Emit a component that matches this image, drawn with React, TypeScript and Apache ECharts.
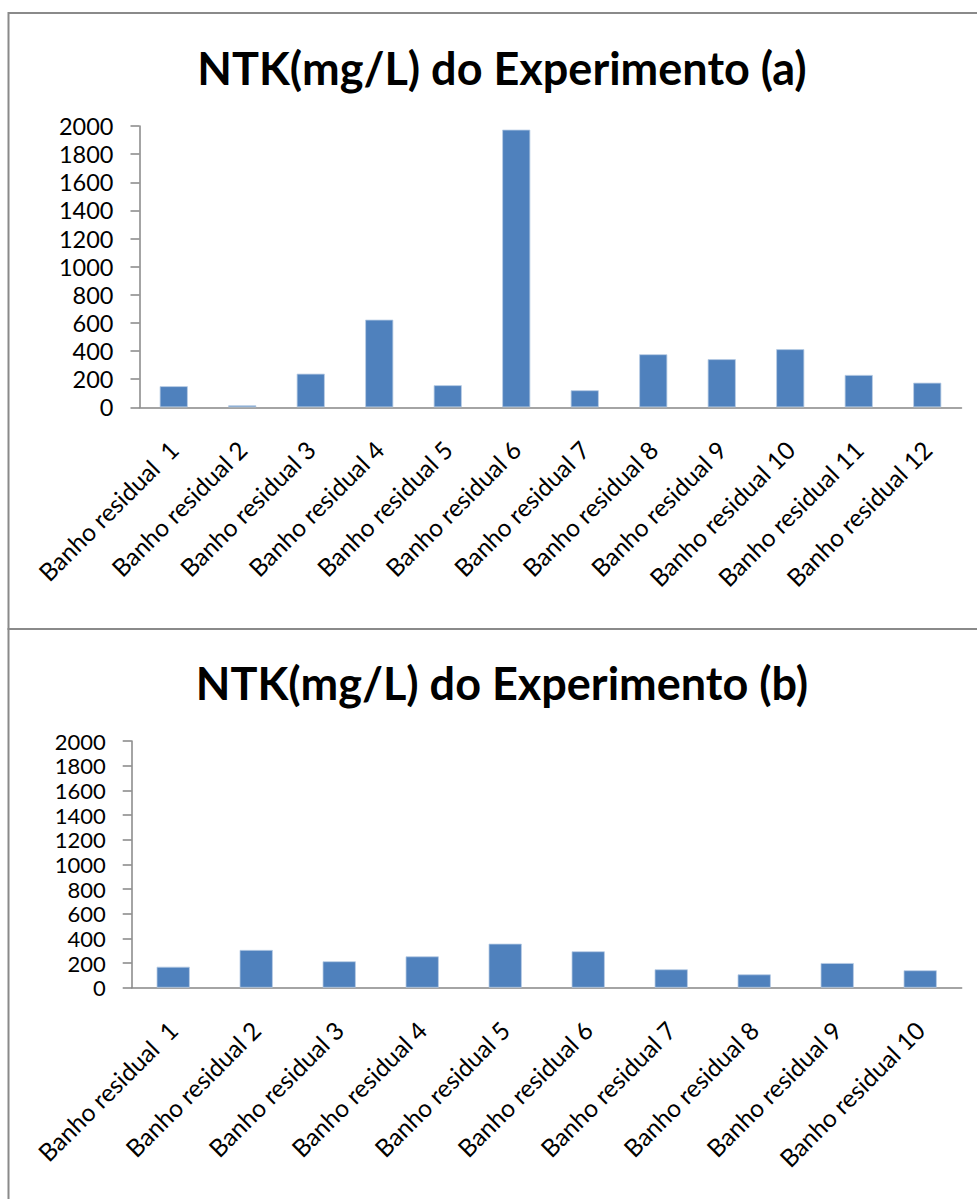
import React, { useEffect, useRef } from "react";
import * as echarts from "echarts";

const titleA = "NTK(mg/L) do Experimento (a)";
const titleB = "NTK(mg/L) do Experimento (b)";
const categoriesA = [
  "Banho residual  1", "Banho residual 2", "Banho residual 3", "Banho residual 4",
  "Banho residual 5", "Banho residual 6", "Banho residual 7", "Banho residual 8",
  "Banho residual 9", "Banho residual 10", "Banho residual 11", "Banho residual 12",
];
const valuesA = [150, 14, 239, 623, 157, 1974, 121, 377, 342, 413, 230, 175];
const categoriesB = [
  "Banho residual  1", "Banho residual 2", "Banho residual 3", "Banho residual 4",
  "Banho residual 5", "Banho residual 6", "Banho residual 7", "Banho residual 8",
  "Banho residual 9", "Banho residual 10",
];
const valuesB = [170, 306, 214, 254, 357, 295, 149, 108, 200, 141];
const yMin = 0;
const yMax = 2000;
const yStep = 200;

const FONT = "Lato";
const AXIS = "#868686";
const BAR = "#4F81BD";

export default function App() {
  const ref = useRef<HTMLDivElement>(null);
  useEffect(() => {
    if (!ref.current) return;
    const chart = echarts.init(ref.current, null, { renderer: "svg" });
    const xAxisCommon = (data: string[], gi: number) => ({
      type: "category",
      gridIndex: gi,
      data,
      axisLine: { lineStyle: { color: AXIS, width: 1.5 } },
      axisTick: { length: 9, lineStyle: { color: AXIS, width: 1.5 } },
      axisLabel: {
        rotate: 45,
        interval: 0,
        margin: 38,
        color: "#000",
        fontFamily: FONT,
        fontSize: 24.5,
      },
    });
    const yAxisCommon = (gi: number, size: number, lh: number) => ({
      type: "value",
      gridIndex: gi,
      min: yMin,
      max: yMax,
      interval: yStep,
      splitLine: { show: false },
      axisLine: { show: true, lineStyle: { color: AXIS, width: 1.5 } },
      axisTick: { show: true, length: 9, lineStyle: { color: AXIS, width: 1.5 } },
      axisLabel: {
        margin: 26,
        color: "#000",
        fontFamily: FONT,
        fontSize: size,
        lineHeight: lh,
        formatter: (v: number) => String(v),
      },
    });
    chart.setOption({
      animation: false,
      backgroundColor: "#fff",
      title: [
        {
          text: titleA,
          left: 497,
          top: 40,
          textAlign: "center",
          textStyle: { fontFamily: FONT, fontWeight: "bold", fontSize: 45, color: "#000" },
        },
        {
          text: titleB,
          left: 497,
          top: 655,
          textAlign: "center",
          textStyle: { fontFamily: FONT, fontWeight: "bold", fontSize: 45, color: "#000" },
        },
      ],
      grid: [
        { left: 139.5, width: 822, top: 126, height: 281.3 },
        { left: 131.7, width: 830, top: 741, height: 246.7 },
      ],
      xAxis: [xAxisCommon(categoriesA, 0), xAxisCommon(categoriesB, 1)],
      yAxis: [yAxisCommon(0, 23.5, 26), yAxisCommon(1, 22, 22)],
      series: [
        {
          type: "bar",
          xAxisIndex: 0,
          yAxisIndex: 0,
          data: valuesA,
          barCategoryGap: "59%",
          itemStyle: { color: BAR, borderColor: "#B9CDE5", borderWidth: 0.8 },
        },
        {
          type: "bar",
          xAxisIndex: 1,
          yAxisIndex: 1,
          data: valuesB,
          barCategoryGap: "60%",
          itemStyle: { color: BAR, borderColor: "#B9CDE5", borderWidth: 0.8 },
        },
      ],
      graphic: [
        {
          type: "rect",
          shape: { x: 8.5, y: 13, width: 980, height: 616 },
          style: { fill: "none", stroke: "#8a8a8a", lineWidth: 2 },
        },
        {
          type: "rect",
          shape: { x: 8.5, y: 629, width: 980, height: 580 },
          style: { fill: "none", stroke: "#8a8a8a", lineWidth: 2 },
        },
      ],
    });
    return () => chart.dispose();
  }, []);
  return (
    <div
      ref={ref}
      style={{ position: "absolute", left: 0, top: 0, width: 977, height: 1199 }}
    />
  );
}
